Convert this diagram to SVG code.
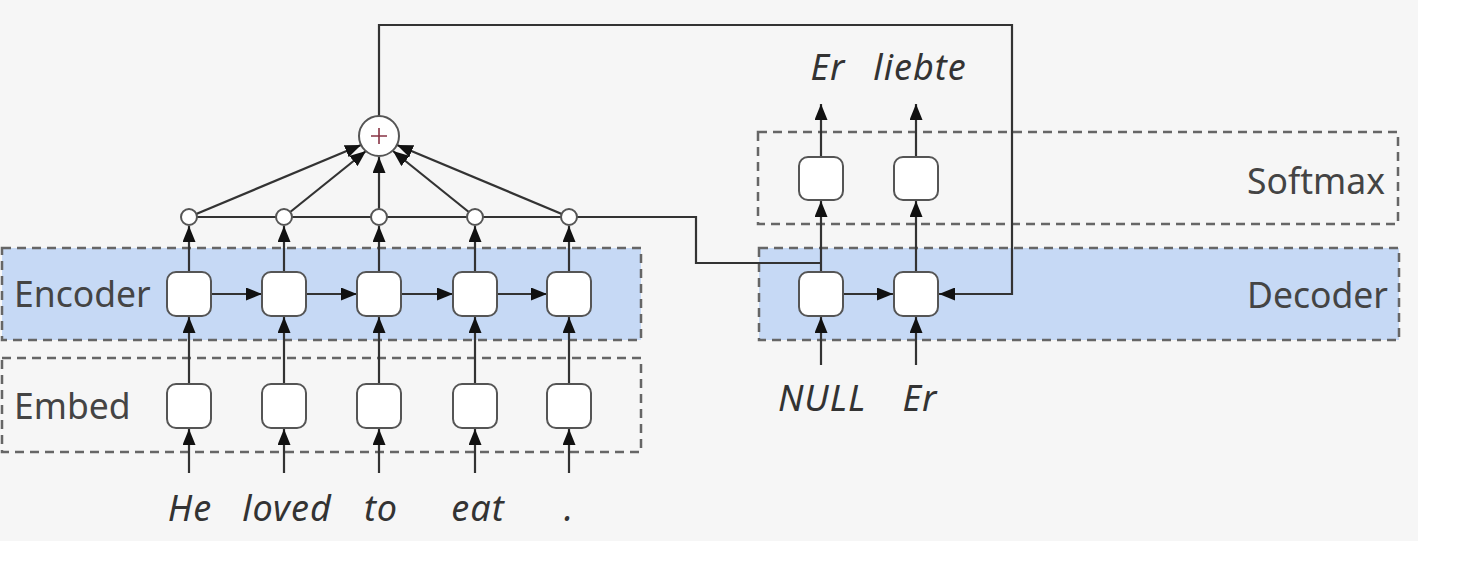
<svg xmlns="http://www.w3.org/2000/svg" width="1460" height="576" viewBox="0 0 1460 576">
<defs>
<style>
.ln{stroke:#333;stroke-width:2.2;fill:none}
.cell{fill:#fff;stroke:#555;stroke-width:2}
.dot{fill:#fff;stroke:#555;stroke-width:2}
.box{stroke:#666;stroke-width:2.5;stroke-dasharray:9,6}
.lab{font-family:"Noto Sans","Open Sans",sans-serif;font-size:35.5px;fill:#444}
.word{font-family:"Noto Sans","Open Sans",sans-serif;font-size:36px;font-style:italic;fill:#333;letter-spacing:1px}
</style>
<marker id="ar" viewBox="0 0 16 13" refX="16" refY="6.5" markerWidth="16" markerHeight="13" markerUnits="userSpaceOnUse" orient="auto">
<path d="M0,0 L16,6.5 L0,13 Z" fill="#111"/>
</marker>
</defs>
<rect x="0" y="0" width="1460" height="576" fill="#fff"/>
<rect x="0" y="0" width="1418" height="541" fill="#f6f6f6"/>

<g id="layers">
<rect id="encoder-layer" class="box" x="2" y="248" width="639" height="92" fill="#c6d9f5"/>
<rect id="embed-layer" class="box" x="2" y="358" width="639" height="94" fill="none"/>
<rect id="softmax-layer" class="box" x="758" y="132" width="640" height="92" fill="none"/>
<rect id="decoder-layer" class="box" x="759" y="248" width="640" height="92" fill="#c6d9f5"/>
</g>

<g id="connectors">
<line class="ln" x1="189" y1="473" x2="189" y2="429" marker-end="url(#ar)"/>
<line class="ln" x1="284" y1="473" x2="284" y2="429" marker-end="url(#ar)"/>
<line class="ln" x1="379" y1="473" x2="379" y2="429" marker-end="url(#ar)"/>
<line class="ln" x1="475" y1="473" x2="475" y2="429" marker-end="url(#ar)"/>
<line class="ln" x1="569" y1="473" x2="569" y2="429" marker-end="url(#ar)"/>
<line class="ln" x1="189" y1="384" x2="189" y2="317" marker-end="url(#ar)"/>
<line class="ln" x1="284" y1="384" x2="284" y2="317" marker-end="url(#ar)"/>
<line class="ln" x1="379" y1="384" x2="379" y2="317" marker-end="url(#ar)"/>
<line class="ln" x1="475" y1="384" x2="475" y2="317" marker-end="url(#ar)"/>
<line class="ln" x1="569" y1="384" x2="569" y2="317" marker-end="url(#ar)"/>
<line class="ln" x1="211" y1="294" x2="262" y2="294" marker-end="url(#ar)"/>
<line class="ln" x1="306" y1="294" x2="357" y2="294" marker-end="url(#ar)"/>
<line class="ln" x1="401" y1="294" x2="453" y2="294" marker-end="url(#ar)"/>
<line class="ln" x1="497" y1="294" x2="547" y2="294" marker-end="url(#ar)"/>
<line class="ln" x1="189" y1="272" x2="189" y2="226" marker-end="url(#ar)"/>
<line class="ln" x1="284" y1="272" x2="284" y2="226" marker-end="url(#ar)"/>
<line class="ln" x1="379" y1="272" x2="379" y2="226" marker-end="url(#ar)"/>
<line class="ln" x1="475" y1="272" x2="475" y2="226" marker-end="url(#ar)"/>
<line class="ln" x1="569" y1="272" x2="569" y2="226" marker-end="url(#ar)"/>
<polyline class="ln" points="189,217 696,217 696,263 821,263"/>
<line class="ln" x1="189" y1="217" x2="361" y2="145" marker-end="url(#ar)"/>
<line class="ln" x1="284" y1="217" x2="366" y2="151" marker-end="url(#ar)"/>
<line class="ln" x1="379" y1="217" x2="379" y2="157" marker-end="url(#ar)"/>
<line class="ln" x1="475" y1="217" x2="393" y2="151" marker-end="url(#ar)"/>
<line class="ln" x1="569" y1="217" x2="397" y2="145" marker-end="url(#ar)"/>
<polyline class="ln" points="379,116 379,25 1012,25 1012,294 939,294" marker-end="url(#ar)"/>
<line class="ln" x1="821" y1="365" x2="821" y2="317" marker-end="url(#ar)"/>
<line class="ln" x1="916" y1="365" x2="916" y2="317" marker-end="url(#ar)"/>
<line class="ln" x1="843" y1="294" x2="893" y2="294" marker-end="url(#ar)"/>
<line class="ln" x1="821" y1="272" x2="821" y2="201" marker-end="url(#ar)"/>
<line class="ln" x1="916" y1="272" x2="916" y2="201" marker-end="url(#ar)"/>
<line class="ln" x1="821" y1="157" x2="821" y2="104" marker-end="url(#ar)"/>
<line class="ln" x1="916" y1="157" x2="916" y2="104" marker-end="url(#ar)"/>
</g>

<g id="embed-cells">
<rect id="emb1" class="cell" x="167" y="384" width="44" height="44" rx="9"/>
<rect id="emb2" class="cell" x="262" y="384" width="44" height="44" rx="9"/>
<rect id="emb3" class="cell" x="357" y="384" width="44" height="44" rx="9"/>
<rect id="emb4" class="cell" x="453" y="384" width="44" height="44" rx="9"/>
<rect id="emb5" class="cell" x="547" y="384" width="44" height="44" rx="9"/>
</g>
<g id="encoder-cells">
<rect id="enc1" class="cell" x="167" y="272" width="44" height="44" rx="9"/>
<rect id="enc2" class="cell" x="262" y="272" width="44" height="44" rx="9"/>
<rect id="enc3" class="cell" x="357" y="272" width="44" height="44" rx="9"/>
<rect id="enc4" class="cell" x="453" y="272" width="44" height="44" rx="9"/>
<rect id="enc5" class="cell" x="547" y="272" width="44" height="44" rx="9"/>
</g>
<g id="attention-dots">
<circle class="dot" cx="189" cy="217" r="8"/>
<circle class="dot" cx="284" cy="217" r="8"/>
<circle class="dot" cx="379" cy="217" r="8"/>
<circle class="dot" cx="475" cy="217" r="8"/>
<circle class="dot" cx="569" cy="217" r="8"/>
</g>
<g id="sum">
<circle class="dot" cx="379" cy="136" r="20"/>
<path d="M379,128 V144 M371,136 H387" stroke="#834" stroke-width="1.6"/>
</g>
<g id="decoder-cells">
<rect id="dec1" class="cell" x="799" y="272" width="44" height="44" rx="9"/>
<rect id="dec2" class="cell" x="894" y="272" width="44" height="44" rx="9"/>
</g>
<g id="softmax-cells">
<rect id="sm1" class="cell" x="799" y="157" width="44" height="43" rx="9"/>
<rect id="sm2" class="cell" x="894" y="157" width="44" height="43" rx="9"/>
</g>

<g id="labels">
<text class="lab" x="14" y="307">Encoder</text>
<text class="lab" x="14" y="419">Embed</text>
<text class="lab" x="1385" y="194" text-anchor="end">Softmax</text>
<text class="lab" x="1388" y="308" text-anchor="end">Decoder</text>
<text class="word" x="190" y="521" text-anchor="middle">He</text>
<text class="word" x="287" y="521" text-anchor="middle">loved</text>
<text class="word" x="381" y="521" text-anchor="middle">to</text>
<text class="word" x="478" y="521" text-anchor="middle">eat</text>
<text class="word" x="569" y="521" text-anchor="middle">.</text>
<text class="word" x="828" y="80" text-anchor="middle">Er</text>
<text class="word" x="920" y="80" text-anchor="middle">liebte</text>
<text class="word" x="822" y="411" text-anchor="middle">NULL</text>
<text class="word" x="920" y="411" text-anchor="middle">Er</text>
</g>
</svg>
